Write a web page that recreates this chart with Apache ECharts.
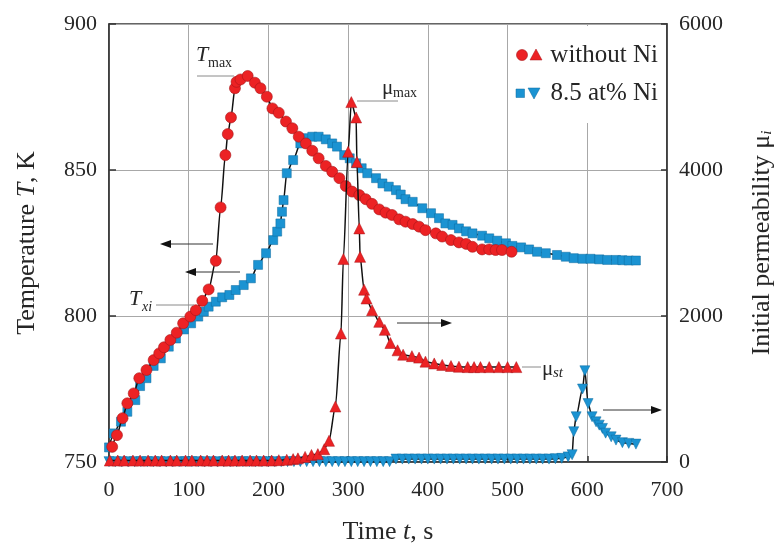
<!DOCTYPE html>
<html><head><meta charset="utf-8">
<script src="https://cdn.jsdelivr.net/npm/echarts@6/dist/echarts.min.js"></script>
<style>html,body{margin:0;padding:0;background:#fff}#c{width:774px;height:554px}</style>
</head><body><div id="c"></div>
<script>
// ---- tick values ----
const timeTicks = [0, 100, 200, 300, 400, 500, 600, 700];
const tempTicks = [750, 800, 850, 900];
const permTicks = [0, 2000, 4000, 6000];

// ---- legend labels ----
const seriesNames = ['without Ni', '8.5 at% Ni'];

// ---- Temperature, without Ni (red circles) [t (s), T (K)] ----
const tempWithoutNi = [
  [4,755.2],[10,759.2],[17,765],[23,770.1],[31,773.5],[38,778.7],[47,781.5],[56,784.9],[63,787.2],[69,789.3],
  [77,791.8],[85,794.3],[93,797.5],[102,799.8],[109,802],[117,805.2],[125,809.1],[134,818.9],[140,837.2],[146,855.1],
  [149,862.3],[153,868],[158,878],[160,880.2],[165,881],[174,882.2],[183,879.9],[190,878],[198,875.1],[205,871.1],
  [213,869.6],[222,866.6],[230,864.3],[238,861.4],[247,859.1],[255,856.6],[263,854],[272,851.4],[280,849.4],[289,847.2],
  [297,844.5],[305,842.6],[314,841.4],[322,840],[330,838.4],[339,836.5],[347,835.4],[355,834.6],[364,833.1],[372,832.3],
  [381,831.5],[389,830.6],[397,829.4],[410,828.3],[418,827.2],[429,826],[439,825.2],[448,824.7],[456,823.7],[468,822.8],
  [477,822.8],[485,822.6],[493,822.6],[505,822]
];

// ---- Temperature, 8.5 at% Ni (blue squares) ----
const tempWithNi = [
  [0,755],[6,759.8],[15,763.8],[23,767.2],[33,771.2],[39,776],[47,778.7],[56,782.9],[65,785.5],[75,789.5],
  [84,792.3],[94,795.4],[103,797.5],[112,799.8],[119,801.5],[125,803.2],[134,804.9],[142,806.4],[151,807.2],[159,808.9],
  [169,810.6],[178,812.9],[187,817.5],[197,821.5],[206,826],[211,828.9],[215,831.7],[217,835.7],[219,839.7],[223,848.9],
  [231,853.4],[240,859.1],[247,860.9],[255,861.4],[263,861.4],[272,860.5],[280,859.1],[286,858],[295,855.1],[302,854],
  [310,852.3],[317,850.6],[324,848.9],[335,847.2],[343,845.4],[351,844.3],[360,843.1],[366,841.6],[372,840],[381,839.1],
  [393,836.9],[404,835.2],[414,833.5],[422,831.7],[431,831.2],[439,830],[448,829],[456,828.3],[468,827.5],[477,826.6],
  [487,825.8],[498,824.9],[506,824],[517,823.5],[527,822.8],[537,822],[548,821.5],[562,820.9],[573,820.3],[583,819.8],
  [594,819.6],[604,819.6],[615,819.4],[625,819.2],[636,819.2],[644,819.1],[652,819],[661,819]
];

// ---- Initial permeability, without Ni (red triangles) ----
const permWithoutNi = [
  [1,20],[11,20],[19,20],[30,20],[39,20],[49,20],[58,20],[66,20],[77,20],[85,20],
  [96,20],[104,20],[115,20],[123,20],[131,20],[142,20],[150,20],[158,20],[167,20],[177,20],
  [185,20],[194,20],[204,20],[213,25],[223,30],[231,40],[237,50],[246,70],[254,96],[262,108],
  [270,175],[276,290],[284,760],[291,1760],[294,2780],[300,4250],[304,4930],[310,4720],[311,4110],[314,3200],
  [315,2810],[320,2360],[323,2240],[330,2080],[339,1920],[346,1810],[353,1630],[362,1530],[369,1470],[380,1450],
  [389,1430],[397,1375],[408,1350],[418,1330],[429,1315],[439,1305],[450,1300],[458,1300],[466,1300],[477,1300],
  [489,1300],[500,1300],[511,1300]
];

// ---- Initial permeability, 8.5 at% Ni (blue inverted triangles) ----
const permWithNi = [
  [0,5],[8,5],[16,5],[24,5],[32,5],[40,5],[48,5],[56,5],[64,5],[72,5],
  [80,5],[88,5],[96,5],[104,5],[112,5],[120,5],[128,5],[136,5],[144,5],[152,5],
  [160,5],[168,5],[176,5],[184,5],[192,5],[200,5],[208,5],[216,5],[224,5],[232,5],
  [240,5],[248,5],[256,5],[264,5],[272,5],[280,5],[288,5],[296,5],[304,5],[312,5],
  [320,5],[328,5],[336,5],[344,5],[352,5],[360,40],[368,40],[376,40],[384,40],[392,40],
  [400,40],[408,40],[416,40],[424,40],[432,40],[440,40],[448,40],[456,40],[464,40],[472,40],
  [480,40],[488,40],[496,40],[504,40],[512,40],[520,40],[528,40],[536,40],[544,40],[552,40],
  [560,45],[568,50],[576,70],[581,100],[583,415],[586,620],[594,1000],[597,1250],[601,800],[606,620],
  [611,550],[615,505],[619,460],[623,395],[630,345],[636,300],[644,265],[652,255],[661,245]
];

const RED = '#ec2224', RED_EDGE = '#a8151a';
const BLUE = '#1b93d2', BLUE_EDGE = '#0d6a9e';
const FONT = 'Liberation Serif';
const TXT = '#262626';

const chart = echarts.init(document.getElementById('c'), null, {renderer: 'canvas'});

function arrow(x1, x2, y) {
  const dir = x2 > x1 ? 1 : -1;
  const L = 11, H = 4;
  return [
    {type: 'line', shape: {x1: x1, y1: y, x2: x2 - dir * L, y2: y}, style: {stroke: '#333', lineWidth: 1}, z: 50},
    {type: 'polygon', shape: {points: [[x2, y], [x2 - dir * L, y - H], [x2 - dir * L, y + H]]}, style: {fill: '#111'}, z: 50}
  ];
}
function lead(x1, x2, y) {
  return {type: 'line', shape: {x1: x1, y1: y, x2: x2, y2: y}, style: {stroke: '#8a8a8a', lineWidth: 1}, z: 50};
}
function txt(x, y, s, size, italic, align) {
  return {type: 'text', x: x, y: y, z: 60,
    style: {text: s, font: (italic ? 'italic ' : '') + size + 'px "' + FONT + '"', fill: TXT,
      textAlign: align || 'left', textVerticalAlign: 'middle'}};
}

const lineStyle = {color: '#111', width: 1.5};
const NAME = 26;

const option = {
  animation: false,
  backgroundColor: '#fff',
  grid: {left: 109, right: 107, top: 24, bottom: 92, outerBoundsMode: 'none', containLabel: false,
    show: true, borderColor: '#333', borderWidth: 1.5, backgroundColor: 'transparent'},
  xAxis: {
    type: 'value', min: timeTicks[0], max: timeTicks[timeTicks.length - 1], interval: timeTicks[1] - timeTicks[0],
    name: '{a|Time }{i|t}{a|, s}', nameLocation: 'middle', nameGap: 57,
    nameTextStyle: {rich: {a: {fontFamily: FONT, fontSize: NAME, color: TXT}, i: {fontFamily: FONT, fontSize: NAME, fontStyle: 'italic', color: TXT}}},
    axisLine: {show: true, lineStyle: {color: '#333', width: 1.5}},
    axisTick: {show: true, inside: true, length: 6, lineStyle: {color: '#333', width: 1.5}},
    axisLabel: {fontFamily: FONT, fontSize: 22, color: TXT, margin: 17, formatter: v => String(v)},
    splitLine: {show: true, lineStyle: {color: '#a8a8a8', width: 1}}
  },
  yAxis: [{
    type: 'value', min: tempTicks[0], max: tempTicks[tempTicks.length - 1], interval: tempTicks[1] - tempTicks[0],
    name: '{a|Temperature }{i|T}{a|, K}', nameLocation: 'middle', nameGap: 69, nameRotate: 90,
    nameTextStyle: {rich: {a: {fontFamily: FONT, fontSize: NAME, color: TXT}, i: {fontFamily: FONT, fontSize: NAME, fontStyle: 'italic', color: TXT}}},
    axisLine: {show: true, lineStyle: {color: '#333', width: 1.5}},
    axisTick: {show: true, inside: true, length: 7, lineStyle: {color: '#333', width: 1.5}},
    axisLabel: {fontFamily: FONT, fontSize: 22, color: TXT, margin: 12, formatter: v => String(v)},
    splitLine: {show: true, lineStyle: {color: '#a8a8a8', width: 1}}
  }, {
    type: 'value', position: 'right', min: permTicks[0], max: permTicks[permTicks.length - 1], interval: permTicks[1] - permTicks[0],
    name: '{a|Initial permeability μ}{i|i}', nameLocation: 'middle', nameGap: 82, nameRotate: 90,
    nameTextStyle: {rich: {a: {fontFamily: FONT, fontSize: NAME, color: TXT}, i: {fontFamily: FONT, fontSize: 15, fontStyle: 'italic', color: TXT, verticalAlign: 'bottom'}}},
    axisLine: {show: true, lineStyle: {color: '#333', width: 1.5}},
    axisTick: {show: true, inside: true, length: 6, lineStyle: {color: '#333', width: 1.5}},
    axisLabel: {fontFamily: FONT, fontSize: 22, color: TXT, margin: 12, formatter: v => String(v)},
    splitLine: {show: false}
  }],
  series: [
    {name: seriesNames[1] + ' μ', type: 'line', yAxisIndex: 1, data: permWithNi, smooth: 0.25, smoothMonotone: 'x',
      symbol: 'triangle', symbolRotate: 180, symbolSize: 10, lineStyle: lineStyle,
      itemStyle: {color: BLUE, borderColor: BLUE_EDGE, borderWidth: 0.5}, z: 2},
    {name: seriesNames[1] + ' T', type: 'line', yAxisIndex: 0, data: tempWithNi, smooth: 0.25, smoothMonotone: 'x',
      symbol: 'rect', symbolSize: 9, lineStyle: lineStyle,
      itemStyle: {color: BLUE, borderColor: BLUE_EDGE, borderWidth: 0.5}, z: 3},
    {name: seriesNames[0] + ' T', type: 'line', yAxisIndex: 0, data: tempWithoutNi, smooth: 0.25, smoothMonotone: 'x',
      symbol: 'circle', symbolSize: 11, lineStyle: lineStyle,
      itemStyle: {color: RED, borderColor: RED_EDGE, borderWidth: 0.6}, z: 4},
    {name: seriesNames[0] + ' μ', type: 'line', yAxisIndex: 1, data: permWithoutNi, smooth: 0.25, smoothMonotone: 'x',
      symbol: 'triangle', symbolSize: 11, lineStyle: lineStyle,
      itemStyle: {color: RED, borderColor: RED_EDGE, borderWidth: 0.5}, z: 5}
  ],
  graphic: [
    // legend box
    {type: 'rect', shape: {x: 513, y: 26, width: 152, height: 97}, style: {fill: '#fff'}, z: 40},
    {type: 'circle', shape: {cx: 522, cy: 55, r: 5.5}, style: {fill: RED, stroke: RED_EDGE, lineWidth: 0.6}, z: 45},
    {type: 'polygon', shape: {points: [[536, 49], [542, 60], [530, 60]]}, style: {fill: RED, stroke: RED_EDGE, lineWidth: 0.5}, z: 45},
    {type: 'rect', shape: {x: 516, y: 89, width: 8.5, height: 8.5}, style: {fill: BLUE, stroke: BLUE_EDGE, lineWidth: 0.5}, z: 45},
    {type: 'polygon', shape: {points: [[528, 88], [540, 88], [534, 99]]}, style: {fill: BLUE, stroke: BLUE_EDGE, lineWidth: 0.5}, z: 45},
    txt(658, 55, seriesNames[0], 25, false, 'right'),
    txt(658, 93, seriesNames[1], 25, false, 'right'),
    // annotations
    txt(196, 55, 'T', 22, true), txt(208, 63, 'max', 14, false), lead(197, 234, 76),
    txt(382, 88, 'μ', 21, false), txt(393, 93, 'max', 14, false), lead(357, 398, 101),
    txt(129, 299, 'T', 22, true), txt(142, 307, 'xi', 14, true), lead(156, 194, 305),
    txt(542, 369, 'μ', 21, false), txt(553, 373, 'st', 15, true), lead(522, 541, 367),
    ...arrow(213, 160, 244),
    ...arrow(240, 185, 272),
    ...arrow(397, 452, 323),
    ...arrow(603, 662, 410)
  ]
};
chart.setOption(option);
</script>
</body></html>
